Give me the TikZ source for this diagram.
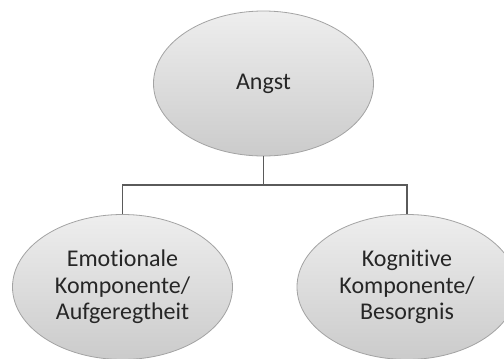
\documentclass[tikz,border=0pt]{standalone}
\usepackage{fontspec}
\setmainfont[Ligatures=NoCommon]{Carlito}
\usetikzlibrary{shapes.geometric}
\definecolor{edgegray}{HTML}{A3A3A3}
\definecolor{linegray}{HTML}{5A5A5A}
\definecolor{textgray}{HTML}{262626}
\definecolor{filltop}{HTML}{EEEEEE}
\definecolor{fillbot}{HTML}{CBCBCB}
\tikzset{
  bubble/.style={ellipse, draw=edgegray, line width=0.8pt,
    top color=filltop, bottom color=fillbot,
    minimum width=220pt, minimum height=145pt, inner sep=0pt,
    align=center, text=textgray,
    font=\fontsize{24}{26.7}\selectfont},
  link/.style={draw=linegray, line width=1.8pt}
}
\begin{document}
\begin{tikzpicture}[x=1pt,y=-1pt]
  \useasboundingbox[fill=white] (0,0) rectangle (504,359);
  \node[bubble] (angst) at (263.5,83.5) {Angst};
  \node[bubble] (emo) at (122.5,287) {Emotionale\\Komponente/\\Aufgeregtheit};
  \node[bubble] (kog) at (407,287) {Kognitive\\Komponente/\\Besorgnis};
  \coordinate (split) at (263.5,185);
  \draw[link] (angst.south) -- (split);
  \draw[link] (emo.north) |- (split) -| (kog.north);
\end{tikzpicture}
\end{document}
